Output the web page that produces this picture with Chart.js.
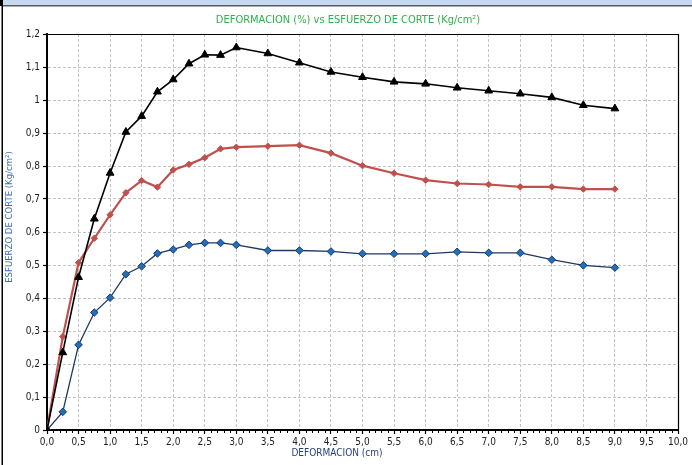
<!DOCTYPE html>
<html>
<head>
<meta charset="utf-8">
<script src="https://cdn.jsdelivr.net/npm/chart.js@4.4.1/dist/chart.umd.min.js"></script>
<style>
  html, body { margin: 0; padding: 0; background: #ffffff; }
  #wrap { position: relative; width: 692px; height: 465px; }
</style>
</head>
<body>
<div id="wrap"><canvas id="chart" width="692" height="465"></canvas></div>
<script>
// Deformación (cm) y esfuerzo de corte (Kg/cm²) de las tres muestras
const deformacion = [0, 0.25, 0.5, 0.75, 1.0, 1.25, 1.5, 1.75, 2.0, 2.25, 2.5, 2.75, 3.0,
                     3.5, 4.0, 4.5, 5.0, 5.5, 6.0, 6.5, 7.0, 7.5, 8.0, 8.5, 9.0];
const esfuerzoNegro = [0, 0.235, 0.463, 0.640, 0.779, 0.903, 0.951, 1.025, 1.062, 1.110, 1.137, 1.136, 1.159,
                       1.141, 1.113, 1.085, 1.069, 1.055, 1.049, 1.037, 1.028, 1.019, 1.008, 0.984, 0.974];
const esfuerzoRojo = [0, 0.283, 0.507, 0.581, 0.652, 0.719, 0.756, 0.736, 0.788, 0.805, 0.825, 0.852, 0.857,
                      0.860, 0.863, 0.839, 0.801, 0.778, 0.757, 0.747, 0.744, 0.737, 0.737, 0.730, 0.730];
const esfuerzoAzul = [0, 0.055, 0.258, 0.356, 0.401, 0.472, 0.496, 0.535, 0.547, 0.561, 0.567, 0.567, 0.561,
                      0.544, 0.544, 0.541, 0.534, 0.534, 0.534, 0.540, 0.537, 0.537, 0.516, 0.499, 0.492];

const titulo = 'DEFORMACION (%) vs ESFUERZO DE CORTE (Kg/cm²)';
const tituloX = 'DEFORMACION (cm)';
const tituloY = 'ESFUERZO DE CORTE (Kg/cm²)';

const FONT = "'Liberation Sans Narrow', 'DejaVu Sans Condensed', 'Liberation Sans', Arial, sans-serif";

const puntos = ys => deformacion.map((x, i) => ({ x: x, y: ys[i] }));

// Frame, title, axis titles, minor ticks and the top/right plot border
const marco = {
  id: 'marco',
  beforeDraw(chart) {
    const ctx = chart.ctx;
    ctx.save();
    ctx.fillStyle = '#ffffff';
    ctx.fillRect(0, 0, chart.width, chart.height);
    ctx.fillStyle = '#c6d9f0';
    ctx.fillRect(0, 0, chart.width, 5);
    ctx.fillStyle = '#555a60';
    ctx.fillRect(3, 5, chart.width - 3, 1.5);
    ctx.fillStyle = '#000000';
    ctx.fillRect(0, 0, 3, 6);
    ctx.fillRect(1.5, 6, 1.5, chart.height - 6);
    ctx.restore();
  },
  afterDraw(chart) {
    const ctx = chart.ctx;
    const a = chart.chartArea;
    const sx = chart.scales.x;
    ctx.save();
    // top and right border
    ctx.strokeStyle = '#000000';
    ctx.lineWidth = 1.2;
    ctx.beginPath();
    ctx.moveTo(a.left, a.top + 0.5);
    ctx.lineTo(a.right + 0.5, a.top + 0.5);
    ctx.lineTo(a.right + 0.5, a.bottom);
    ctx.stroke();
    // minor ticks along the x axis
    ctx.lineWidth = 1;
    ctx.beginPath();
    for (let k = 1; k < 100; k++) {
      if (k % 5 === 0) continue;
      const px = Math.round(sx.getPixelForValue(k / 10)) + 0.5;
      ctx.moveTo(px, a.bottom);
      ctx.lineTo(px, a.bottom + 3);
    }
    ctx.stroke();
    // chart title
    ctx.font = '11px ' + FONT;
    ctx.fillStyle = '#2eb04a';
    ctx.textAlign = 'center';
    ctx.textBaseline = 'middle';
    ctx.fillText(titulo, 348, 20);
    // x axis title
    ctx.font = '10px ' + FONT;
    ctx.fillStyle = '#243f7c';
    ctx.fillText(tituloX, 337, 453);
    // y axis title
    ctx.translate(10, 217);
    ctx.rotate(-Math.PI / 2);
    ctx.fillStyle = '#3b6cb7';
    ctx.font = '9.5px ' + FONT;
    ctx.fillText(tituloY, 0, 0);
    ctx.restore();
  }
};

const etiquetaY = v => {
  const r = Math.round(v * 10) / 10;
  return Number.isInteger(r) ? String(r) : r.toFixed(1).replace('.', ',');
};
const etiquetaX = v => (Math.round(v * 10) / 10).toFixed(1).replace('.', ',');

new Chart(document.getElementById('chart'), {
  type: 'line',
  data: {
    datasets: [
      {
        label: 'Muestra 3',
        data: puntos(esfuerzoNegro),
        borderColor: '#000000',
        backgroundColor: '#000000',
        borderWidth: 1.6,
        pointStyle: 'triangle',
        pointRadius: 4.5,
        pointBorderWidth: 1,
        order: 1
      },
      {
        label: 'Muestra 2',
        data: puntos(esfuerzoRojo),
        borderColor: '#c0504d',
        backgroundColor: '#c0504d',
        borderWidth: 2.2,
        pointStyle: 'rectRot',
        pointRadius: 3.2,
        pointBorderWidth: 1,
        order: 2
      },
      {
        label: 'Muestra 1',
        data: puntos(esfuerzoAzul),
        borderColor: '#1f3864',
        backgroundColor: '#1f6fbf',
        pointBorderColor: '#1f3864',
        borderWidth: 1.3,
        pointStyle: 'rectRot',
        pointRadius: 3.8,
        pointBorderWidth: 1,
        order: 3
      }
    ]
  },
  options: {
    responsive: false,
    animation: false,
    events: [],
    layout: { padding: { left: 0, right: 14, top: 34, bottom: 0 } },
    plugins: {
      legend: { display: false },
      title: { display: false },
      tooltip: { enabled: false }
    },
    scales: {
      x: {
        type: 'linear',
        min: 0,
        max: 10,
        afterFit: s => { s.height = 35; },
        ticks: {
          stepSize: 0.5,
          autoSkip: false,
          maxRotation: 0,
          padding: 2,
          color: '#222222',
          font: { family: FONT, size: 10 },
          callback: etiquetaX
        },
        grid: {
          color: '#c4c4c4',
          lineWidth: 1,
          drawTicks: true,
          tickLength: 4,
          tickColor: '#000000',
          tickBorderDash: [],
          tickWidth: 1.2
        },
        border: { display: true, color: '#000000', width: 2, dash: [3, 2] }
      },
      y: {
        min: 0,
        max: 1.2,
        afterFit: s => { s.width = 47; },
        ticks: {
          stepSize: 0.1,
          autoSkip: false,
          padding: 3,
          color: '#222222',
          font: { family: FONT, size: 10 },
          callback: etiquetaY
        },
        grid: {
          color: '#c4c4c4',
          lineWidth: 1,
          drawTicks: true,
          tickLength: 4,
          tickColor: '#000000',
          tickWidth: 1.2
        },
        border: { display: true, color: '#000000', width: 2, dash: [3, 2] }
      }
    }
  },
  plugins: [marco]
});
</script>
</body>
</html>
